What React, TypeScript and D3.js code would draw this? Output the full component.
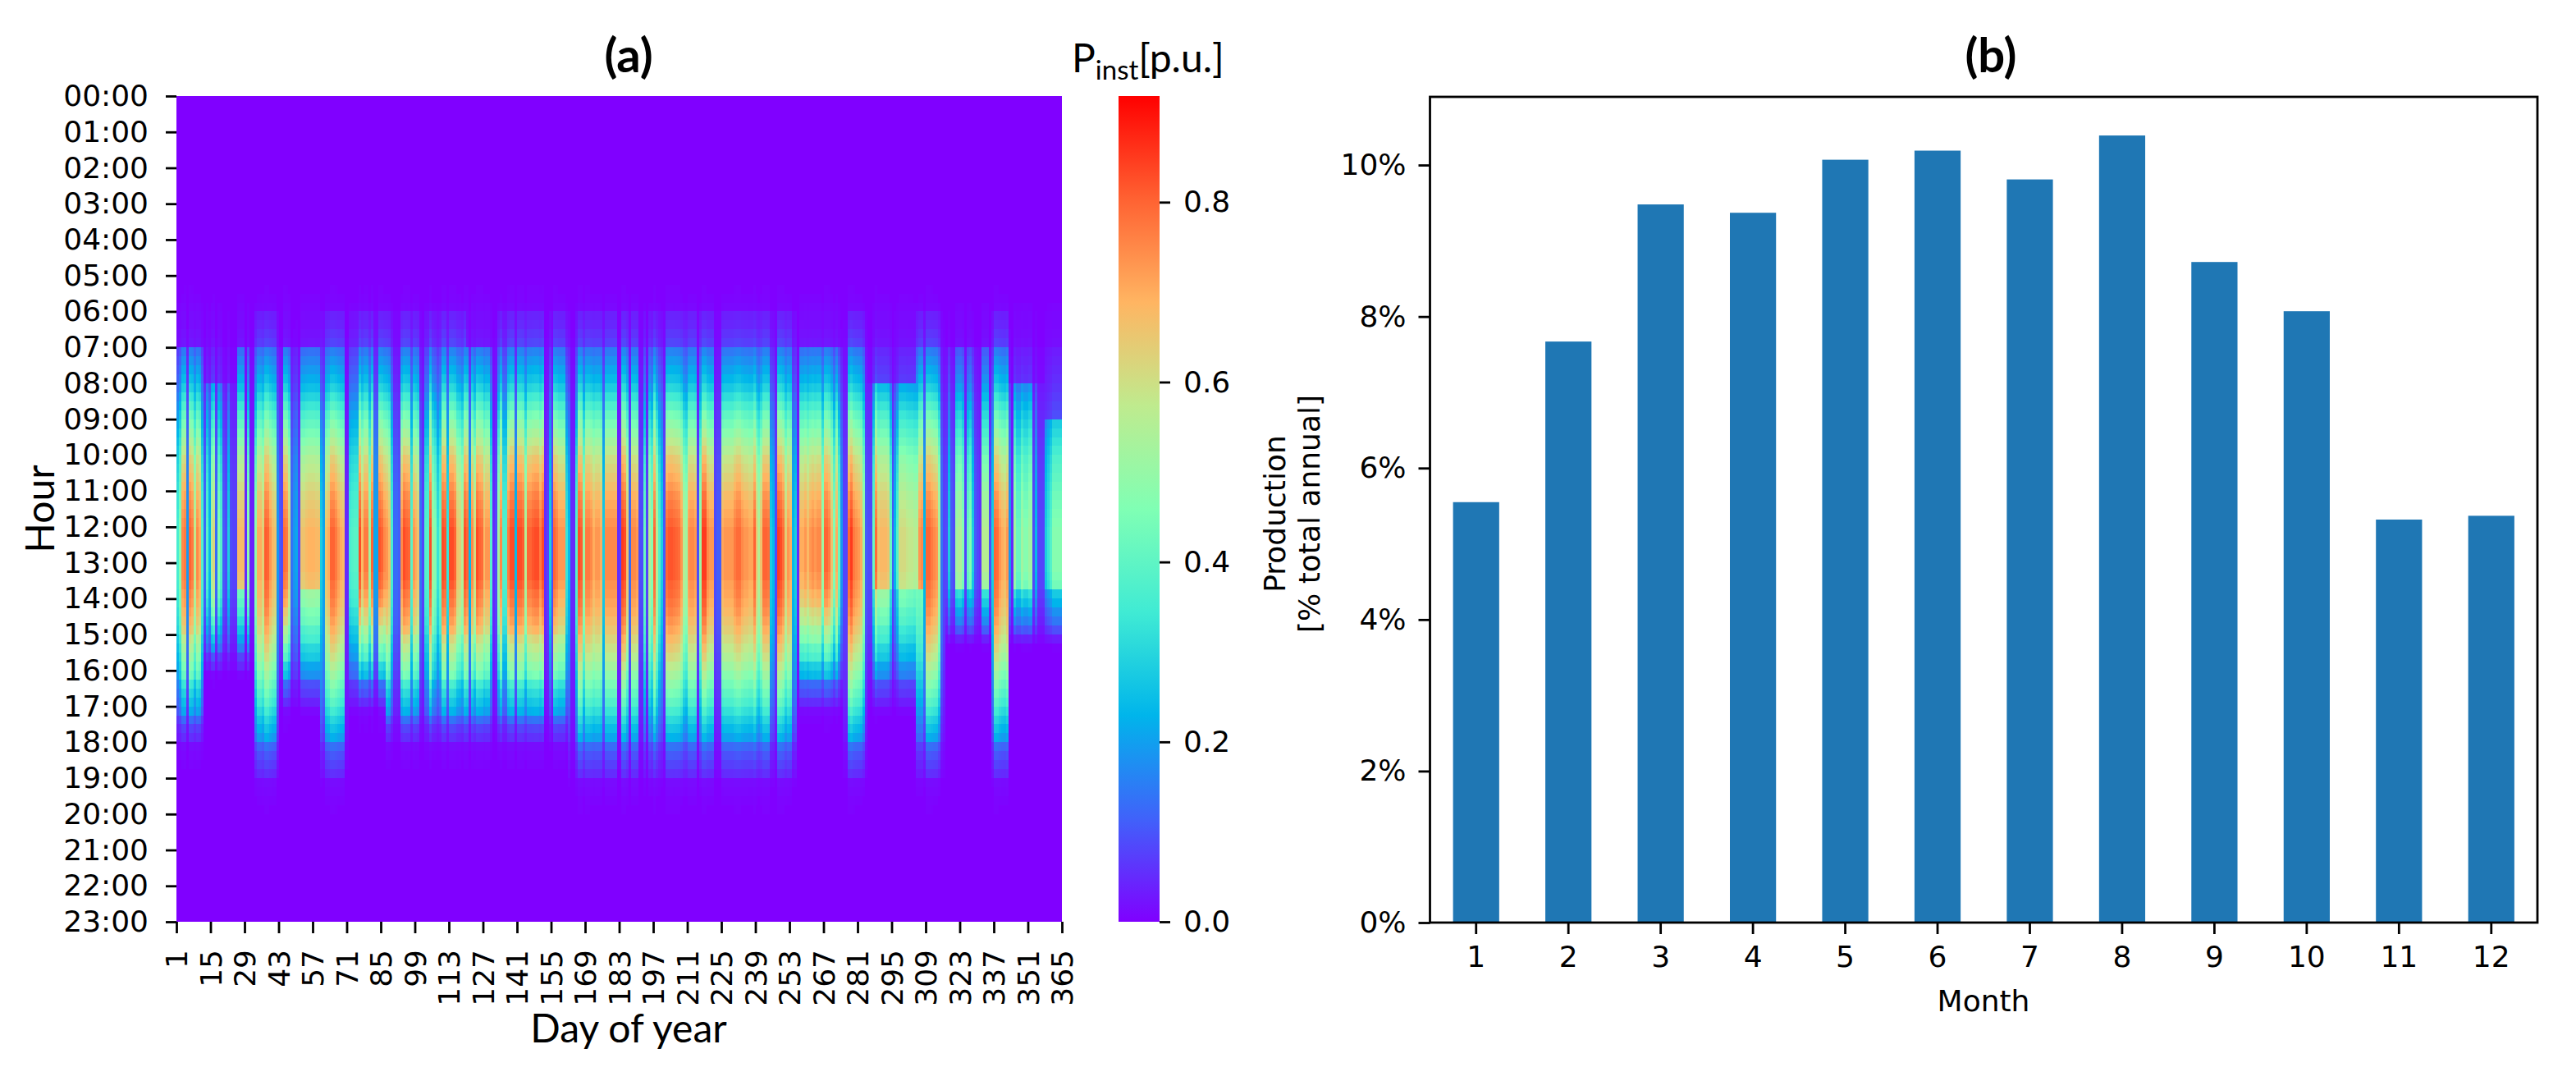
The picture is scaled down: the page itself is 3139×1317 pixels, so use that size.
import React, { useEffect, useRef } from 'react';
import * as d3 from 'd3';

const width = 3139;
const height = 1317;

const hourLabels = ['00:00', '01:00', '02:00', '03:00', '04:00', '05:00', '06:00', '07:00', '08:00', '09:00', '10:00', '11:00',
  '12:00', '13:00', '14:00', '15:00', '16:00', '17:00', '18:00', '19:00', '20:00', '21:00', '22:00', '23:00'];
const dayTicks = [1, 15, 29, 43, 57, 71, 85, 99, 113, 127, 141, 155, 169, 183, 197, 211, 225, 239, 253, 267, 281, 295, 309, 323, 337, 351, 365];

// midday power of each day
const dailyPeak = [
  .36, .47, .75, .77, .19, .8, .77, .58, .75, .7,
  .38, .13, .39, .24, .56, .62, .13, .47, .38, .11,
  .09, .28, .09, .08, .08, .68, .68, .68, .05, .49,
  .04, .04, .49, .7, .7, .64, .81, .8, .73, .68,
  .66, .19, .11, .09, .79, .77, .64, .14, .19, .21,
  .09, .66, .66, .68, .69, .69, .69, .68, .68, .28,
  .21, .66, .7, .8, .8, .77, .73, .7, .68, .05,
  .05, .36, .38, .39, .39, .83, .68, .77, .77, .52,
  .8, .21, .21, .82, .8, .75, .73, .68, .36, .13,
  .13, .11, .75, .83, .81, .8, .39, .73, .7, .66,
  .14, .08, .38, .39, .83, .52, .47, .33, .42, .83,
  .82, .33, .83, .83, .8, .66, .64, .56, .83, .8,
  .24, .75, .61, .83, .8, .79, .68, .73, .73, .38,
  .05, .08, .52, .75, .38, .38, .77, .83, .83, .24,
  .83, .83, .81, .56, .8, .8, .82, .83, .83, .77,
  .83, .05, .08, .28, .09, .8, .77, .73, .73, .73,
  .33, .24, .05, .05, .38, .83, .81, .52, .77, .77,
  .75, .7, .73, .73, .7, .28, .75, .75, .75, .75,
  .75, .05, .08, .85, .83, .66, .13, .75, .75, .73,
  .09, .09, .42, .08, .56, .47, .8, .56, .38, .28,
  .11, .8, .82, .82, .81, .8, .79, .73, .56, .52,
  .73, .75, .75, .73, .09, .52, .85, .85, .75, .73,
  .73, .09, .11, .11, .71, .73, .73, .73, .73, .77,
  .79, .79, .75, .73, .73, .71, .71, .8, .66, .56,
  .66, .8, .8, .79, .28, .24, .09, .85, .83, .79,
  .64, .73, .7, .24, .28, .05, .7, .7, .73, .68,
  .73, .75, .73, .75, .75, .52, .8, .8, .77, .66,
  .47, .7, .42, .19, .08, .08, .8, .85, .77, .75,
  .73, .7, .52, .11, .09, .09, .42, .79, .66, .68,
  .68, .68, .66, .42, .11, .24, .38, .61, .61, .61,
  .59, .58, .58, .56, .56, .73, .75, .24, .8, .8,
  .77, .75, .73, .56, .14, .08, .09, .28, .11, .09,
  .52, .55, .55, .47, .08, .42, .47, .28, .11, .08,
  .06, .56, .56, .56, .09, .28, .8, .79, .73, .7,
  .68, .73, .19, .05, .52, .42, .42, .52, .47, .47,
  .52, .52, .09, .24, .08, .08, .08, .28, .33, .38,
  .47, .47, .47, .47, .42,
];

// share of the midday power at each quarter of an hour
const quarterShape = [
  0, 0, 0, 0, 0, 0, 0, 0, 0, 0, 0, 0, 0, 0, 0, 0, 0, 0, 0, 0,
  .01, .015, .02, .035, .05, .06, .08, .1, .2, .24, .28, .32,
  .37, .43, .49, .55, .6, .65, .7, .75, .8, .83, .86, .89,
  .92, .94, .96, .98, 1, 1, 1, 1, 1, 1, .98, .97,
  .95, .93, .9, .87, .83, .79, .75, .7, .65, .6, .55, .5,
  .44, .38, .33, .28, .17, .13, .1, .07, .05, .035, .02, .015,
  .01, .01, 0, 0, 0, 0, 0, 0, 0, 0, 0, 0,
];

// stepped edges of the coloured blocks: last day of the block, first and last full hour
const blockLastDay = [11, 25, 32, 42, 59, 71, 86, 119, 130, 161, 255, 274, 284, 304, 316, 335, 342, 357, 365];
const blockStart = [7, 8, 7, 6, 7, 6, 6, 6, 7, 6, 6, 7, 6, 8, 6, 7, 6, 8, 9];
const blockEnd = [17.75, 15.75, 15.75, 18.75, 16.75, 18.75, 16.75, 17.75, 17.75, 17.75, 18.75, 16.75, 18.75, 16.75, 18.75, 15, 18.75, 15, 15];

// runs of days whose afternoon drops below the morning side, with the drop
const fadeFirstDay = [26, 52, 287, 306, 321, 326, 332, 345, 358];
const fadeLastDay = [28, 59, 305, 307, 324, 327, 334, 352, 365];
const fadeRatio = [.7, .8, .8, .6, .7, .7, .7, .75, .7];

const colorStops = [0, .125, .25, .375, .5, .625, .75, .875, 1];
const colorRamp = ['#8000ff', '#4062fa', '#00b5eb', '#40ebd4', '#80ffb4', '#bfeb8e', '#ffb562', '#ff6232', '#ff0000'];
const colorTicks = [0, .2, .4, .6, .8];
const colorMax = .918;

const months = ['1', '2', '3', '4', '5', '6', '7', '8', '9', '10', '11', '12'];
const production = [5.55, 7.67, 9.48, 9.37, 10.07, 10.19, 9.81, 10.39, 8.72, 8.07, 5.32, 5.37];
const productionTicks = [0, 2, 4, 6, 8, 10];

const sans = '"DejaVu Sans", sans-serif';
const calibriLike = 'Lato, sans-serif';

function styleAxis(g: any) {
  g.select('.domain').remove();
  g.selectAll('line').attr('stroke', '#000').attr('stroke-width', 2.8);
  g.selectAll('text').attr('font-family', sans).attr('font-size', 36).attr('fill', '#000');
}

// afternoon of a block that stops early is squeezed so it fades out by the block's last hour
function shareAt(row: number, end: number) {
  const hour = row / 4;
  if (hour <= 13) return quarterShape[row];
  const squeezed = 13 + (hour - 13) * (5.9 / (end + 0.15 - 13));
  const index = Math.round(squeezed * 4);
  return index < quarterShape.length ? quarterShape[index] : 0;
}

function fadeAt(day: number, hour: number) {
  if (hour < 13.75) return 1;
  const run = fadeFirstDay.findIndex((first, i) => day >= first && day <= fadeLastDay[i]);
  return run < 0 ? 1 : fadeRatio[run];
}

export default function App() {
  const svgRef = useRef<SVGSVGElement>(null);

  useEffect(() => {
    const svg = d3.select(svgRef.current);
    svg.selectAll('*').remove();
    svg.append('rect').attr('width', width).attr('height', height).attr('fill', '#fff');

    // (a) heatmap
    const x = d3.scaleLinear().domain([1, 365]).range([215, 1294]);
    const y = d3.scaleLinear().domain([0, 23]).range([117, 1123]);
    const colorValue = d3.scaleLinear().domain(colorStops.map((s) => s * colorMax)).range(colorRamp as any).clamp(true) as any;

    svg.append('rect').attr('x', x(1)).attr('y', y(0)).attr('width', x(365) - x(1)).attr('height', y(23) - y(0)).attr('fill', colorRamp[0]);

    const cells: { day: number; row: number; value: number }[] = [];
    dailyPeak.forEach((peak, i) => {
      const block = d3.bisectLeft(blockLastDay, i + 1);
      quarterShape.forEach((_, row) => {
        const hour = row / 4;
        const inside = hour >= blockStart[block] && hour <= blockEnd[block];
        const value = peak * shareAt(row, blockEnd[block]) * fadeAt(i + 1, hour) * (inside ? 1 : 0.35);
        if (value > 0.004) cells.push({ day: i + 1, row, value });
      });
    });

    svg.append('g')
      .attr('shape-rendering', 'crispEdges')
      .selectAll('rect')
      .data(cells)
      .join('rect')
      .attr('x', (d) => x(d.day))
      .attr('y', (d) => y(d.row / 4))
      .attr('width', (d) => Math.min(x(d.day + 1), x(365)) - x(d.day))
      .attr('height', (d) => y((d.row + 1) / 4) - y(d.row / 4))
      .attr('fill', (d) => colorValue(d.value));

    svg.append('g')
      .attr('transform', `translate(${x(1)},0)`)
      .call(d3.axisLeft(y).tickValues(d3.range(24)).tickFormat((d: any) => hourLabels[d]).tickSize(13).tickPadding(21) as any)
      .call(styleAxis);

    const dayAxis = svg.append('g')
      .attr('transform', `translate(0,${y(23)})`)
      .call(d3.axisBottom(x).tickValues(dayTicks).tickFormat((d: any) => String(d)).tickSize(14) as any)
      .call(styleAxis);
    dayAxis.selectAll('text')
      .attr('text-anchor', 'end')
      .attr('dy', '0.36em')
      .attr('transform', 'translate(0,34) rotate(-90)')
      .attr('y', 0)
      .attr('x', 0);

    svg.append('text').attr('x', 766).attr('y', 1270).attr('text-anchor', 'middle')
      .attr('font-family', calibriLike).attr('font-size', 48).text('Day of year');
    svg.append('text').attr('transform', 'translate(66,620) rotate(-90)').attr('text-anchor', 'middle')
      .attr('font-family', calibriLike).attr('font-size', 48).text('Hour');
    svg.append('text').attr('x', 766).attr('y', 88).attr('text-anchor', 'middle')
      .attr('font-family', calibriLike).attr('font-weight', 700).attr('font-size', 58).text('(a)');

    // colour bar
    const barScale = d3.scaleLinear().domain([0, colorMax]).range([1123, 117]);
    const defs = svg.append('defs');
    const gradient = defs.append('linearGradient').attr('id', 'ramp').attr('x1', 0).attr('x2', 0).attr('y1', 1).attr('y2', 0);
    colorStops.forEach((s, i) => gradient.append('stop').attr('offset', s).attr('stop-color', colorRamp[i]));
    svg.append('rect').attr('x', 1363).attr('y', 117).attr('width', 50).attr('height', 1006).attr('fill', 'url(#ramp)');
    svg.append('g')
      .attr('transform', 'translate(1413,0)')
      .call(d3.axisRight(barScale).tickValues(colorTicks).tickFormat(d3.format('.1f') as any).tickSize(13).tickPadding(16) as any)
      .call(styleAxis);

    const barTitle = svg.append('text').attr('x', 1306).attr('y', 88).attr('font-family', calibriLike).attr('font-size', 48);
    barTitle.append('tspan').text('P');
    barTitle.append('tspan').attr('font-size', 33).attr('dy', 9).text('inst');
    barTitle.append('tspan').attr('dy', -9).text('[p.u.]');

    // (b) monthly bars
    const xb = d3.scaleBand().domain(months).range([1742.5, 3092]).paddingInner(0.5).paddingOuter(0.25);
    const yb = d3.scaleLinear().domain([0, 10.9]).range([1124, 118]);

    svg.append('g')
      .selectAll('rect')
      .data(production)
      .join('rect')
      .attr('x', (_, i) => xb(months[i]) as number)
      .attr('y', (d) => yb(d))
      .attr('width', xb.bandwidth())
      .attr('height', (d) => yb(0) - yb(d))
      .attr('fill', '#1f77b4');

    svg.append('rect').attr('x', 1742.5).attr('y', 118).attr('width', 1349.5).attr('height', 1006)
      .attr('fill', 'none').attr('stroke', '#000').attr('stroke-width', 2.8);

    svg.append('g')
      .attr('transform', 'translate(1742.5,0)')
      .call(d3.axisLeft(yb).tickValues(productionTicks).tickFormat((d: any) => `${d}%`).tickSize(14).tickPadding(15) as any)
      .call(styleAxis);
    svg.append('g')
      .attr('transform', 'translate(0,1124)')
      .call(d3.axisBottom(xb).tickSize(14).tickPadding(14) as any)
      .call(styleAxis);

    svg.append('text').attr('x', 2417).attr('y', 1232).attr('text-anchor', 'middle')
      .attr('font-family', sans).attr('font-size', 36).text('Month');
    svg.append('text').attr('transform', 'translate(1566,626) rotate(-90)').attr('text-anchor', 'middle')
      .attr('font-family', sans).attr('font-size', 36).text('Production');
    svg.append('text').attr('transform', 'translate(1608,626) rotate(-90)').attr('text-anchor', 'middle')
      .attr('font-family', sans).attr('font-size', 36).text('[% total annual]');
    svg.append('text').attr('x', 2426).attr('y', 88).attr('text-anchor', 'middle')
      .attr('font-family', calibriLike).attr('font-weight', 700).attr('font-size', 58).text('(b)');
  }, []);

  return <svg ref={svgRef} width={width} height={height} style={{ position: 'absolute', left: 0, top: 0, display: 'block' }} />;
}
